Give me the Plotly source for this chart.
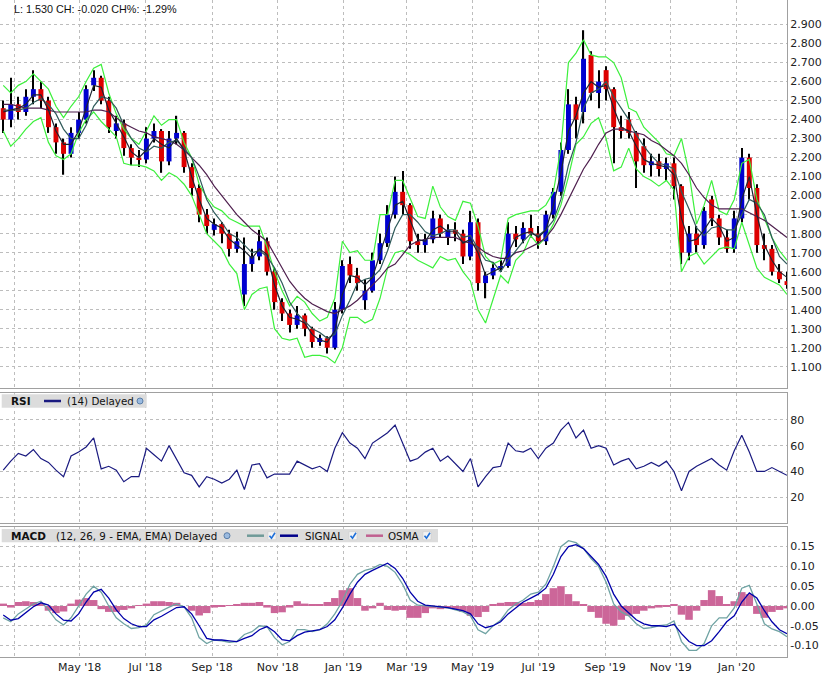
import pandas as pd
import plotly.graph_objects as go

# weekly sampling of the daily chart
dates = pd.date_range("2018-02-19", periods=105, freq="7D")

open_ = [2.46, 2.40, 2.48, 2.44, 2.52, 2.56, 2.50, 2.36, 2.28, 2.22,
         2.33, 2.40, 2.58, 2.62, 2.50, 2.34, 2.38, 2.25, 2.20, 2.19,
         2.30, 2.34, 2.18, 2.30, 2.33, 2.15, 2.04, 1.90, 1.82, 1.85,
         1.80, 1.72, 1.48, 1.64, 1.68, 1.76, 1.60, 1.44, 1.38, 1.32,
         1.37, 1.30, 1.23, 1.25, 1.20, 1.40, 1.64, 1.58, 1.45, 1.50,
         1.66, 1.75, 1.90, 2.02, 1.95, 1.76, 1.74, 1.77, 1.88, 1.78,
         1.82, 1.80, 1.68, 1.86, 1.54, 1.58, 1.62, 1.63, 1.80, 1.77,
         1.83, 1.80, 1.76, 1.90, 2.02, 2.24, 2.48, 2.44, 2.74, 2.54,
         2.66, 2.56, 2.36, 2.40, 2.33, 2.26, 2.16, 2.18, 2.14, 2.17,
         2.05, 1.70, 1.80, 1.74, 1.98, 1.88, 1.78, 1.72, 1.88, 2.20,
         2.04, 1.74, 1.72, 1.60, 1.55]
high = [2.50, 2.62, 2.52, 2.56, 2.66, 2.60, 2.52, 2.38, 2.30, 2.36,
        2.44, 2.58, 2.66, 2.63, 2.52, 2.42, 2.40, 2.27, 2.24, 2.36,
        2.38, 2.35, 2.34, 2.42, 2.34, 2.17, 2.06, 1.93, 1.88, 1.86,
        1.82, 1.81, 1.78, 1.72, 1.82, 1.78, 1.62, 1.46, 1.40, 1.42,
        1.38, 1.31, 1.27, 1.26, 1.44, 1.66, 1.68, 1.62, 1.56, 1.70,
        1.80, 1.95, 2.10, 2.13, 1.96, 1.80, 1.80, 1.92, 1.90, 1.85,
        1.86, 1.82, 1.92, 1.88, 1.60, 1.65, 1.66, 1.86, 1.84, 1.86,
        1.90, 1.84, 1.92, 2.04, 2.28, 2.56, 2.52, 2.87, 2.76, 2.66,
        2.68, 2.57, 2.42, 2.44, 2.34, 2.30, 2.22, 2.22, 2.20, 2.20,
        2.06, 1.84, 1.84, 1.94, 2.00, 1.90, 1.82, 1.92, 2.25, 2.22,
        2.06, 1.80, 1.74, 1.64, 1.60]
low = [2.33, 2.36, 2.40, 2.42, 2.48, 2.46, 2.33, 2.22, 2.11, 2.20,
       2.30, 2.38, 2.55, 2.48, 2.33, 2.30, 2.21, 2.16, 2.15, 2.17,
       2.28, 2.12, 2.16, 2.27, 2.12, 2.00, 1.86, 1.80, 1.79, 1.75,
       1.68, 1.70, 1.42, 1.60, 1.66, 1.58, 1.40, 1.34, 1.28, 1.30,
       1.26, 1.20, 1.21, 1.17, 1.19, 1.38, 1.54, 1.50, 1.40, 1.49,
       1.64, 1.73, 1.88, 1.90, 1.72, 1.70, 1.70, 1.75, 1.78, 1.74,
       1.76, 1.64, 1.66, 1.50, 1.46, 1.56, 1.60, 1.62, 1.73, 1.75,
       1.78, 1.72, 1.74, 1.88, 2.00, 2.22, 2.30, 2.38, 2.50, 2.46,
       2.50, 2.17, 2.30, 2.30, 2.04, 2.12, 2.10, 2.10, 2.08, 1.98,
       1.64, 1.66, 1.70, 1.72, 1.84, 1.74, 1.70, 1.70, 1.86, 1.98,
       1.70, 1.66, 1.58, 1.54, 1.51]
close = [2.40, 2.48, 2.44, 2.52, 2.56, 2.50, 2.36, 2.28, 2.22, 2.33,
         2.40, 2.56, 2.62, 2.50, 2.36, 2.38, 2.25, 2.20, 2.19, 2.30,
         2.34, 2.18, 2.30, 2.33, 2.15, 2.04, 1.90, 1.84, 1.85, 1.80,
         1.72, 1.76, 1.64, 1.68, 1.76, 1.60, 1.44, 1.38, 1.32, 1.37,
         1.30, 1.23, 1.25, 1.20, 1.40, 1.63, 1.58, 1.54, 1.50, 1.66,
         1.75, 1.90, 2.02, 1.95, 1.76, 1.74, 1.77, 1.88, 1.80, 1.82,
         1.80, 1.68, 1.86, 1.54, 1.58, 1.62, 1.63, 1.80, 1.77, 1.83,
         1.80, 1.76, 1.90, 2.02, 2.24, 2.48, 2.40, 2.72, 2.54, 2.60,
         2.56, 2.36, 2.34, 2.33, 2.18, 2.16, 2.18, 2.14, 2.17, 2.05,
         1.70, 1.80, 1.74, 1.92, 1.88, 1.78, 1.72, 1.88, 2.20, 2.04,
         1.74, 1.72, 1.60, 1.56, 1.53]

ma_short = [2.44, 2.45, 2.46, 2.48, 2.53, 2.53, 2.45, 2.34, 2.27, 2.27,
            2.34, 2.46, 2.58, 2.57, 2.45, 2.38, 2.31, 2.23, 2.20, 2.24,
            2.30, 2.27, 2.25, 2.30, 2.24, 2.10, 1.98, 1.88, 1.85, 1.83,
            1.77, 1.74, 1.71, 1.67, 1.72, 1.69, 1.53, 1.42, 1.36, 1.35,
            1.33, 1.27, 1.24, 1.23, 1.29, 1.48, 1.58, 1.57, 1.53, 1.57,
            1.69, 1.82, 1.95, 1.97, 1.87, 1.77, 1.76, 1.82, 1.84, 1.81,
            1.81, 1.75, 1.77, 1.70, 1.58, 1.60, 1.62, 1.70, 1.78, 1.80,
            1.81, 1.78, 1.82, 1.95, 2.12, 2.34, 2.42, 2.54, 2.60, 2.57,
            2.58, 2.46, 2.36, 2.34, 2.26, 2.19, 2.17, 2.16, 2.15, 2.11,
            1.88, 1.76, 1.77, 1.82, 1.88, 1.84, 1.76, 1.78, 1.98, 2.10,
            1.90, 1.74, 1.66, 1.60, 1.57]
ma_mid = [2.45, 2.45, 2.45, 2.46, 2.49, 2.51, 2.48, 2.43, 2.35, 2.30,
          2.30, 2.37, 2.47, 2.52, 2.51, 2.46, 2.37, 2.30, 2.25, 2.23,
          2.26, 2.25, 2.28, 2.29, 2.25, 2.20, 2.10, 1.98, 1.91, 1.86,
          1.80, 1.78, 1.74, 1.70, 1.71, 1.68, 1.62, 1.54, 1.44, 1.38,
          1.34, 1.30, 1.28, 1.25, 1.27, 1.37, 1.45, 1.54, 1.56, 1.57,
          1.61, 1.71, 1.83, 1.90, 1.90, 1.86, 1.81, 1.79, 1.80, 1.82,
          1.82, 1.78, 1.79, 1.72, 1.66, 1.65, 1.60, 1.66, 1.71, 1.76,
          1.80, 1.79, 1.82, 1.87, 1.98, 2.16, 2.28, 2.46, 2.54, 2.56,
          2.60, 2.52, 2.46, 2.40, 2.32, 2.26, 2.21, 2.17, 2.16, 2.14,
          2.02, 1.93, 1.83, 1.79, 1.83, 1.84, 1.82, 1.82, 1.90, 1.98,
          1.96, 1.90, 1.78, 1.68, 1.64]
ma_long = [2.48, 2.48, 2.47, 2.46, 2.46, 2.46, 2.45, 2.44, 2.44, 2.44,
           2.44, 2.44, 2.45, 2.45, 2.44, 2.41, 2.38, 2.36, 2.34, 2.33,
           2.31, 2.30, 2.29, 2.27, 2.24, 2.20, 2.16, 2.11, 2.05, 2.00,
           1.95, 1.90, 1.86, 1.82, 1.79, 1.76, 1.69, 1.62, 1.55, 1.50,
           1.46, 1.43, 1.41, 1.39, 1.38, 1.40, 1.42, 1.45, 1.49, 1.53,
           1.57, 1.62, 1.64, 1.69, 1.74, 1.76, 1.77, 1.78, 1.78, 1.78,
           1.78, 1.76, 1.75, 1.73, 1.70, 1.68, 1.67, 1.67, 1.70, 1.71,
           1.73, 1.75, 1.78, 1.83, 1.90, 1.98, 2.06, 2.14, 2.20, 2.27,
           2.33, 2.35, 2.35, 2.34, 2.33, 2.32, 2.29, 2.27, 2.24, 2.21,
           2.17, 2.11, 2.04, 1.99, 1.95, 1.93, 1.93, 1.93, 1.93, 1.91,
           1.89, 1.87, 1.84, 1.81, 1.78]
bb_upper = [2.58, 2.54, 2.58, 2.60, 2.64, 2.60, 2.56, 2.47, 2.41, 2.47,
            2.52, 2.60, 2.67, 2.69, 2.54, 2.43, 2.35, 2.30, 2.27, 2.34,
            2.42, 2.37, 2.40, 2.40, 2.28, 2.20, 2.06, 1.99, 1.94, 1.92,
            1.88, 1.86, 1.84, 1.84, 1.84, 1.73, 1.60, 1.50, 1.42, 1.47,
            1.44, 1.38, 1.34, 1.36, 1.46, 1.76, 1.70, 1.71, 1.66, 1.66,
            1.90, 1.90, 2.08, 2.08, 1.98, 1.89, 1.88, 2.05, 1.94, 1.89,
            1.87, 1.97, 1.96, 1.84, 1.68, 1.64, 1.66, 1.88, 1.90, 1.91,
            1.92, 1.92, 1.95, 2.02, 2.25, 2.70, 2.75, 2.82, 2.74, 2.73,
            2.73, 2.70, 2.62, 2.46, 2.44, 2.36, 2.32, 2.28, 2.22, 2.21,
            2.30, 2.12, 1.85, 1.95, 2.08, 1.92, 1.90, 1.98, 2.17, 2.19,
            1.98, 1.88, 1.78, 1.71, 1.66]
bb_lower = [2.34, 2.26, 2.30, 2.35, 2.39, 2.41, 2.28, 2.21, 2.19, 2.22,
            2.33, 2.40, 2.44, 2.39, 2.35, 2.31, 2.17, 2.16, 2.16, 2.15,
            2.13, 2.08, 2.12, 2.10, 2.06, 2.00, 1.90, 1.80, 1.76, 1.72,
            1.64, 1.59, 1.40, 1.48, 1.51, 1.52, 1.30, 1.25, 1.24, 1.25,
            1.15, 1.16, 1.16, 1.15, 1.12, 1.20, 1.36, 1.36, 1.33, 1.35,
            1.46, 1.62, 1.70, 1.71, 1.69, 1.66, 1.64, 1.62, 1.68, 1.66,
            1.67, 1.60, 1.55, 1.40, 1.33, 1.46, 1.58, 1.54, 1.66, 1.70,
            1.79, 1.74, 1.78, 1.85, 1.95, 2.10, 2.27, 2.31, 2.38, 2.41,
            2.30, 2.13, 2.15, 2.25, 2.14, 2.10, 2.08, 2.05, 2.08, 2.03,
            1.60, 1.68, 1.70, 1.64, 1.68, 1.72, 1.73, 1.72, 1.86, 1.74,
            1.62, 1.57, 1.55, 1.53, 1.48]

rsi = [41, 48, 54, 52, 57, 50, 47, 41, 36, 52,
       55, 59, 66, 42, 44, 41, 32, 36, 36, 58,
       53, 48, 60, 50, 39, 37, 28, 36, 34, 31,
       34, 41, 26, 45, 46, 35, 38, 38, 38, 48,
       45, 42, 44, 40, 58, 70, 62, 58, 50, 62,
       66, 70, 76, 62, 48, 50, 55, 58, 48, 52,
       46, 40, 50, 28, 36, 43, 44, 62, 56, 55,
       58, 50, 58, 62, 72, 78, 66, 72, 58, 60,
       58, 45, 48, 50, 42, 44, 47, 44, 48, 40,
       25, 40, 44, 47, 50, 45, 41, 56, 68, 55,
       40, 40, 43, 40, 37]

macd = [-0.030, -0.040, -0.020, -0.008, 0.005, 0.012, -0.010, -0.035, -0.048, -0.030,
        0.000, 0.030, 0.050, 0.035, 0.000, -0.030, -0.045, -0.057, -0.055, -0.048,
        -0.022, -0.012, -0.003, 0.005, -0.002, -0.030, -0.080, -0.095, -0.086, -0.088,
        -0.092, -0.090, -0.072, -0.065, -0.050, -0.052, -0.080, -0.098, -0.090, -0.060,
        -0.060, -0.065, -0.060, -0.045, -0.020, 0.012, 0.055, 0.080, 0.090, 0.095,
        0.105, 0.100, 0.085, 0.055, 0.015, 0.002, 0.000, -0.002, -0.004, -0.005,
        -0.010, -0.015, -0.025, -0.060, -0.070, -0.050, -0.036, -0.010, 0.005, 0.015,
        0.030, 0.035, 0.055, 0.100, 0.150, 0.165, 0.160, 0.145, 0.120, 0.100,
        0.060, 0.005, -0.015, -0.025, -0.045, -0.057, -0.055, -0.050, -0.048, -0.038,
        -0.090, -0.112, -0.112, -0.095, -0.050, -0.030, -0.030, -0.005, 0.045, 0.052,
        0.005, -0.045, -0.058, -0.065, -0.078]
signal = [-0.023, -0.036, -0.032, -0.018, -0.002, 0.008, 0.002, -0.020, -0.036, -0.038,
          -0.020, 0.010, 0.035, 0.042, 0.020, -0.010, -0.032, -0.045, -0.052, -0.052,
          -0.035, -0.026, -0.015, -0.004, -0.002, -0.020, -0.050, -0.082, -0.086, -0.086,
          -0.088, -0.090, -0.082, -0.075, -0.060, -0.052, -0.065, -0.085, -0.088, -0.075,
          -0.066, -0.063, -0.060, -0.052, -0.035, -0.005, 0.030, 0.060, 0.080, 0.090,
          0.100, 0.108, 0.095, 0.070, 0.035, 0.012, 0.002, 0.000, -0.002, -0.004,
          -0.008, -0.012, -0.020, -0.045, -0.055, -0.050, -0.040, -0.020, -0.005, 0.010,
          0.020, 0.030, 0.045, 0.080, 0.125, 0.150, 0.155, 0.145, 0.125, 0.105,
          0.075, 0.030, 0.000, -0.018, -0.035, -0.045, -0.050, -0.050, -0.052, -0.046,
          -0.070, -0.090, -0.100, -0.100, -0.088, -0.065, -0.040, -0.025, 0.010, 0.033,
          0.020, -0.012, -0.040, -0.060, -0.070]
osma = [0.006, -0.004, 0.010, 0.012, 0.010, 0.006, -0.012, -0.018, -0.014, 0.006,
        0.016, 0.020, 0.015, -0.008, -0.015, -0.015, -0.010, -0.006, 0.002, 0.006,
        0.012, 0.012, 0.010, 0.008, 0.000, -0.012, -0.024, -0.018, -0.004, -0.002,
        0.002, 0.004, 0.008, 0.008, 0.010, -0.004, -0.018, -0.016, -0.004, 0.012,
        0.006, 0.004, 0.004, 0.010, 0.020, 0.040, 0.045, 0.020, -0.012, -0.006,
        0.008, -0.010, -0.012, -0.010, -0.030, -0.030, -0.018, -0.006, -0.008, -0.006,
        -0.008, -0.015, -0.025, -0.028, -0.015, 0.004, 0.008, 0.010, 0.010, 0.008,
        0.010, 0.015, 0.030, 0.045, 0.050, 0.030, 0.012, 0.004, -0.015, -0.030,
        -0.045, -0.050, -0.035, -0.025, -0.020, -0.012, -0.006, -0.004, -0.002, 0.004,
        -0.022, -0.035, -0.012, 0.015, 0.040, 0.025, 0.005, 0.012, 0.035, 0.030,
        -0.020, -0.030, -0.015, -0.010, -0.006]

month_ticks = ["2018-03-01", "2018-05-01", "2018-07-01", "2018-09-01", "2018-11-01", "2019-01-01",
               "2019-03-01", "2019-05-01", "2019-07-01", "2019-09-01", "2019-11-01", "2020-01-01"]
month_labels = ["", "May '18", "Jul '18", "Sep '18", "Nov '18", "Jan '19",
                "Mar '19", "May '19", "Jul '19", "Sep '19", "Nov '19", "Jan '20"]
price_ticks = [1.1, 1.2, 1.3, 1.4, 1.5, 1.6, 1.7, 1.8, 1.9, 2.0, 2.1, 2.2, 2.3, 2.4, 2.5, 2.6, 2.7, 2.8, 2.9]
rsi_ticks = [20, 40, 60, 80]
macd_ticks = [-0.10, -0.05, 0.00, 0.05, 0.10, 0.15]
macd_labels = ["-0.10", "-0.05", "0.00", "0.05", "0.10", "0.15"]

DAY = 86400000
W, H = 787, 657  # plot area in px


def px(x):
    return x / W


def py(y):
    return 1 - y / H


fig = go.Figure()

# candles: wicks then bodies, all as bars so the wick stays behind
fig.add_trace(go.Bar(x=dates, y=[h - l for h, l in zip(high, low)], base=low,
                     width=1.1 * DAY, marker=dict(color="black", line=dict(width=0)),
                     xaxis="x", yaxis="y"))
up = [i for i in range(len(close)) if close[i] >= open_[i]]
dn = [i for i in range(len(close)) if close[i] < open_[i]]
fig.add_trace(go.Bar(x=[dates[i] for i in up], y=[close[i] - open_[i] for i in up],
                     base=[open_[i] for i in up], width=4.6 * DAY,
                     marker=dict(color="#0000d0", line=dict(width=0)), xaxis="x", yaxis="y"))
fig.add_trace(go.Bar(x=[dates[i] for i in dn], y=[open_[i] - close[i] for i in dn],
                     base=[close[i] for i in dn], width=4.6 * DAY,
                     marker=dict(color="#dd0000", line=dict(width=0)), xaxis="x", yaxis="y"))

for ys, col in [(bb_upper, "#3cf03c"), (bb_lower, "#3cf03c"),
                (ma_long, "#4e1f4e"), (ma_mid, "#2f5a5a"), (ma_short, "#1c2430")]:
    fig.add_trace(go.Scatter(x=dates, y=ys, mode="lines", line=dict(color=col, width=1.2),
                             xaxis="x", yaxis="y"))

# RSI
fig.add_trace(go.Scatter(x=dates, y=rsi, mode="lines", line=dict(color="#1a1a80", width=1.2),
                         xaxis="x2", yaxis="y2"))

# MACD
fig.add_trace(go.Bar(x=dates, y=osma, width=7 * DAY, marker=dict(color="#cc6699", line=dict(width=0)),
                     xaxis="x3", yaxis="y3"))
fig.add_trace(go.Scatter(x=dates, y=macd, mode="lines", line=dict(color="#6fa3a3", width=1.3),
                         xaxis="x3", yaxis="y3"))
fig.add_trace(go.Scatter(x=dates, y=signal, mode="lines", line=dict(color="#0000aa", width=1.3),
                         xaxis="x3", yaxis="y3"))

frame = "#a0a0a0"
grid = dict(showgrid=True, gridcolor="#bdbdbd", griddash="3px,3px", gridwidth=1,
            showline=True, mirror=True, linecolor=frame, linewidth=1, zeroline=False,
            ticks="", automargin=False)
xcommon = dict(range=["2018-02-16", "2020-02-17"], type="date",
               tickmode="array", tickvals=month_ticks, ticktext=month_labels, **grid)

fig.update_layout(
    width=833, height=683,
    margin=dict(l=0, r=46, t=0, b=26),
    paper_bgcolor="white", plot_bgcolor="white",
    showlegend=False, hovermode=False, barmode="overlay",
    font=dict(family="DejaVu Sans", size=11, color="#222222"),
    # header line, placed in container pixels
    title=dict(text="L: 1.530 CH: -0.020 CH%: -1.29%", x=14 / 833, xref="container", xanchor="left",
               y=1 - 9 / 683, yref="container", yanchor="middle",
               font=dict(family="Liberation Sans", size=10.8, color="#111111")),
    xaxis=dict(anchor="y", domain=[0, 1], showticklabels=False, **xcommon),
    xaxis2=dict(anchor="y2", domain=[0, 1], matches="x", showticklabels=False, **xcommon),
    xaxis3=dict(anchor="y3", domain=[0, 1], matches="x", showticklabels=True, **xcommon),
    yaxis=dict(domain=[0.4094, 1], range=[0.988, 3.029], side="right", tickmode="array",
               tickvals=price_ticks, tickformat=".3f", **grid),
    yaxis2=dict(domain=[0.2035, 0.4014], range=[-0.2, 100.6], side="right", tickmode="array",
                tickvals=rsi_ticks, **grid),
    yaxis3=dict(domain=[0, 0.1979], range=[-0.129, 0.1997], side="right", tickmode="array",
                tickvals=macd_ticks, ticktext=macd_labels, **grid),
)

shapes = []
annotations = []
label_font = dict(family="DejaVu Sans", size=10.3, color="#111111")
bold_font = dict(family="DejaVu Sans", size=10.5, color="#111111")


def bar_box(x0, x1, y0, y1):
    shapes.append(dict(type="rect", xref="paper", yref="paper", x0=px(x0), x1=px(x1), y0=py(y1), y1=py(y0),
                       fillcolor="#dcdcdc", line=dict(width=0), layer="above"))


def text(x, y, s, f):
    annotations.append(dict(x=px(x), y=py(y), xref="paper", yref="paper", xanchor="left", yanchor="middle",
                            text=s, showarrow=False, font=f))


def swatch(x0, x1, y, col):
    shapes.append(dict(type="line", xref="paper", yref="paper", x0=px(x0), x1=px(x1), y0=py(y), y1=py(y),
                       line=dict(color=col, width=2.5), layer="above"))


def globe(x, y):
    shapes.append(dict(type="circle", xref="paper", yref="paper", x0=px(x - 3), x1=px(x + 3),
                       y0=py(y + 3), y1=py(y - 3), fillcolor="#9bbbe0", line=dict(color="#5a7ea8", width=1),
                       layer="above"))


def check(x, y):
    shapes.append(dict(type="rect", xref="paper", yref="paper", x0=px(x), x1=px(x + 8), y0=py(y + 4),
                       y1=py(y - 4), fillcolor="#f4f4f4", line=dict(color="#c8c8c8", width=0.5), layer="above"))
    shapes.append(dict(type="path", xref="paper", yref="paper",
                       path="M %f,%f L %f,%f L %f,%f" % (px(x + 1.5), py(y), px(x + 3.5), py(y + 2.5),
                                                         px(x + 7), py(y - 3)),
                       line=dict(color="#1e6fd9", width=1.6), layer="above"))


# RSI label bar
bar_box(1.7, 146.7, 394.3, 407.7)
text(9, 401, "<b>RSI</b>", bold_font)
swatch(44, 61, 401, "#1a1a80")
text(65, 401, "(14) Delayed", label_font)
globe(140, 401)

# MACD label bar
bar_box(1.7, 438, 529, 542.3)
text(9, 535.7, "<b>MACD</b>", bold_font)
text(54, 535.7, "(12, 26, 9 - EMA, EMA) Delayed", label_font)
globe(227, 535.7)
swatch(247, 264, 535.7, "#6f9a98")
check(268, 535.7)
swatch(280, 298, 535.7, "#00008b")
text(303, 535.7, "SIGNAL", label_font)
check(349, 535.7)
swatch(366, 383, 535.7, "#c06090")
text(386, 535.7, "OSMA", label_font)
check(423, 535.7)

fig.update_layout(shapes=shapes, annotations=annotations)

# page has a default 8px body margin; drop it so the figure sits at the window corner
fig.write_html("out.html", config={"displayModeBar": False},
               post_script="document.body.style.margin='0';")
